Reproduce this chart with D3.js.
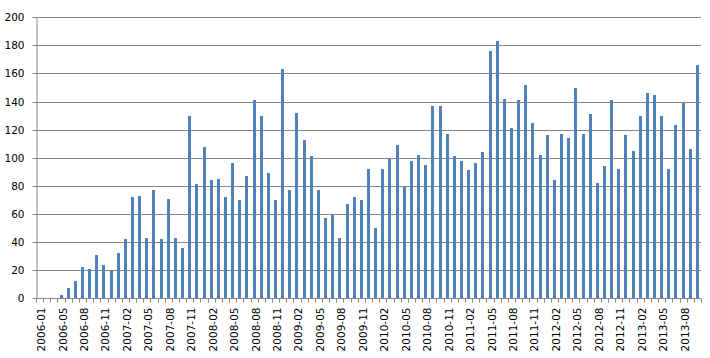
<!DOCTYPE html>
<html><head><meta charset="utf-8">
<script src="https://cdn.jsdelivr.net/npm/d3@7"></script>
<style>
html,body{margin:0;padding:0;background:#fff;}
svg{display:block;}
text{font-family:"DejaVu Sans",Verdana,sans-serif;font-size:10.5px;fill:#000;}
</style></head>
<body>
<svg id="chart" width="710" height="358"></svg>
<script>
const categories = [
  "2006-01","2006-03","2006-04","2006-05","2006-06","2006-07","2006-08","2006-09","2006-10","2006-11","2006-12",
  "2007-01","2007-02","2007-03","2007-04","2007-05","2007-06","2007-07","2007-08","2007-09","2007-10","2007-11","2007-12",
  "2008-01","2008-02","2008-03","2008-04","2008-05","2008-06","2008-07","2008-08","2008-09","2008-10","2008-11","2008-12",
  "2009-01","2009-02","2009-03","2009-04","2009-05","2009-06","2009-07","2009-08","2009-09","2009-10","2009-11","2009-12",
  "2010-01","2010-02","2010-03","2010-04","2010-05","2010-06","2010-07","2010-08","2010-09","2010-10","2010-11","2010-12",
  "2011-01","2011-02","2011-03","2011-04","2011-05","2011-06","2011-07","2011-08","2011-09","2011-10","2011-11","2011-12",
  "2012-01","2012-02","2012-03","2012-04","2012-05","2012-06","2012-07","2012-08","2012-09","2012-10","2012-11","2012-12",
  "2013-01","2013-02","2013-03","2013-04","2013-05","2013-06","2013-07","2013-08","2013-09","2013-10"
];
const values = [
  0,0,0,2,7,12,22,21,31,24,20,
  32,42,72,73,43,77,42,71,43,36,130,81,
  108,84,85,72,96,70,87,141,130,89,70,163,
  77,132,113,101,77,57,60,43,67,72,70,92,
  50,92,99,109,79,98,102,95,137,137,117,101,
  98,91,96,104,176,183,142,121,141,152,125,102,
  116,84,117,114,150,117,131,82,94,141,92,116,
  105,130,146,145,130,92,123,139,106,166
];
const yTicks = [0,20,40,60,80,100,120,140,160,180,200];
const labelEvery = 3;

const svg = d3.select("#chart");
const plotLeft = 36, plotRight = 701, plotTop = 17.3, plotBottom = 298.3;

const x = d3.scaleBand().domain(categories).range([plotLeft, plotRight]).padding(0);
const y = d3.scaleLinear().domain([0, 200]).range([plotBottom, plotTop]);

const grid = "#878787";

// gridlines
svg.append("g").selectAll("line").data(yTicks.filter(d => d > 0)).join("line")
  .attr("x1", plotLeft).attr("x2", plotRight)
  .attr("y1", d => Math.round(y(d)) + 0.5).attr("y2", d => Math.round(y(d)) + 0.5)
  .attr("stroke", grid).attr("stroke-width", 1);

// bars
const bw = 3;
svg.append("g").selectAll("rect").data(values).join("rect")
  .attr("x", (d, i) => Math.round(x(categories[i]) + x.bandwidth() / 2 - bw / 2))
  .attr("width", bw)
  .attr("y", d => Math.round(y(d)))
  .attr("height", d => Math.round(y(0)) - Math.round(y(d)))
  .attr("fill", "#4F81BD")
  .attr("shape-rendering", "crispEdges");

// y axis
const yAxis = svg.append("g").attr("transform", `translate(${plotLeft + 0.5},0)`)
  .call(d3.axisLeft(y).tickValues(yTicks).tickSize(4).tickPadding(8).tickSizeOuter(0));
yAxis.select(".domain").attr("stroke", grid);
yAxis.selectAll(".tick").attr("transform", d => `translate(0,${Math.round(y(d)) + 0.5})`);
yAxis.selectAll(".tick line").attr("stroke", grid);
yAxis.selectAll("text").style("font-family", "'DejaVu Sans',Verdana,sans-serif").style("font-size", "10.5px").attr("fill", "#000");

// x axis
const baseY = Math.round(y(0)) + 0.5;
const xg = svg.append("g");
xg.append("line").attr("x1", plotLeft).attr("x2", plotRight).attr("y1", baseY).attr("y2", baseY).attr("stroke", grid);
const bounds = categories.map(c => x(c)).concat([plotRight]);
xg.selectAll("line.tk").data(bounds).join("line").attr("class", "tk")
  .attr("x1", d => Math.round(d) + 0.5).attr("x2", d => Math.round(d) + 0.5)
  .attr("y1", baseY).attr("y2", baseY + 4).attr("stroke", grid);

const xAxis = svg.append("g").attr("transform", `translate(0,${baseY})`)
  .call(d3.axisBottom(x).tickValues(categories.filter((c, i) => i % labelEvery === 0)).tickSize(0).tickSizeOuter(0));
xAxis.select(".domain").remove();
xAxis.selectAll(".tick").attr("transform", d => `translate(${x(d) + x.bandwidth() / 2 + 1.5},0)`);
xAxis.selectAll("text")
  .style("font-family", "'DejaVu Sans',Verdana,sans-serif").style("font-size", "10.5px").attr("fill", "#000")
  .attr("text-anchor", "end")
  .attr("transform", "rotate(-90)")
  .attr("x", -9).attr("y", 0).attr("dy", "0.38em");
</script>
</body></html>
